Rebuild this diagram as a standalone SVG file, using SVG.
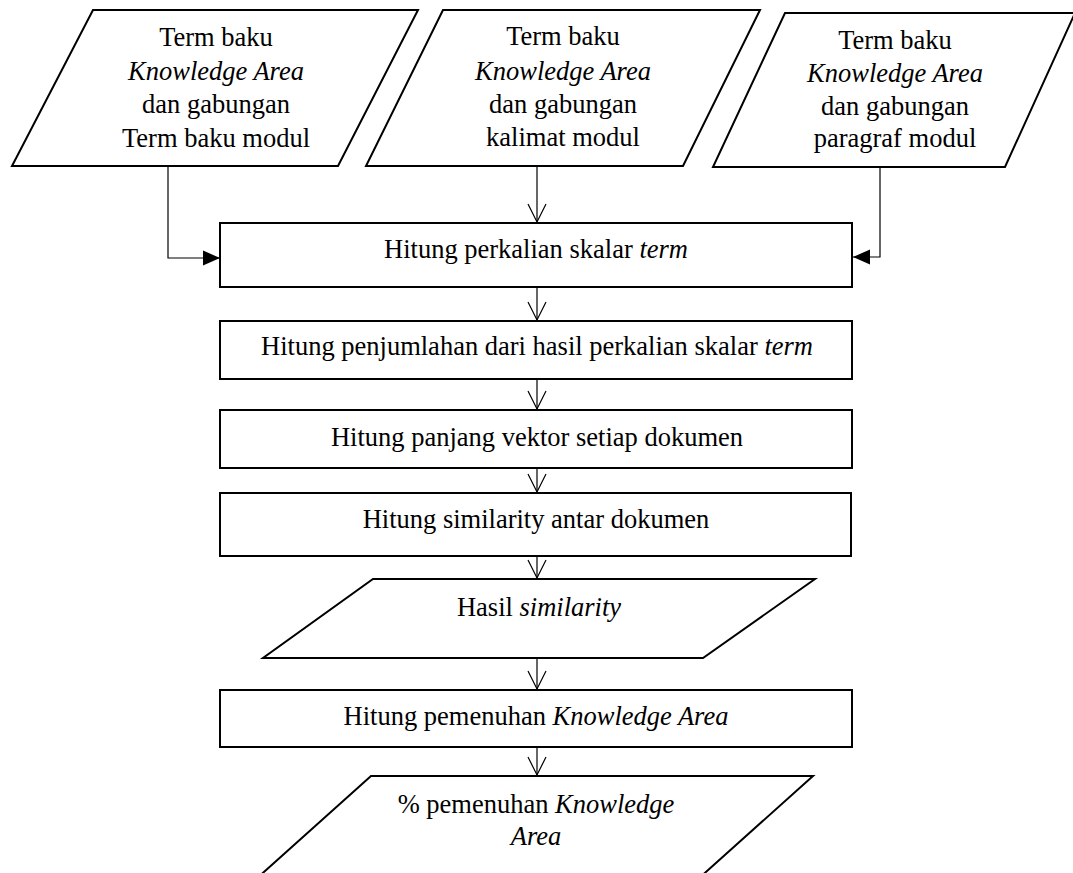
<svg xmlns="http://www.w3.org/2000/svg" width="1073" height="873" viewBox="0 0 1073 873">
  <style>
    .shape { fill: #ffffff; stroke: #000000; stroke-width: 2; stroke-linejoin: miter; }
    .conn { fill: none; stroke: #000000; stroke-width: 1.2; }
    text { font-family: "Liberation Serif", "Times New Roman", serif; font-size: 26.5px; fill: #000000; text-anchor: middle; }
    .it { font-style: italic; }
  </style>
  <defs>
    <marker id="open" markerUnits="userSpaceOnUse" markerWidth="20" markerHeight="20" refX="18" refY="9" orient="auto" overflow="visible">
      <path d="M0,0 L18,9 L0,18" fill="none" stroke="#000000" stroke-width="1.2"/>
    </marker>
    <marker id="solid" markerUnits="userSpaceOnUse" markerWidth="18" markerHeight="16" refX="17" refY="7.5" orient="auto" overflow="visible">
      <path d="M0,0 L17,7.5 L0,15 Z" fill="#000000"/>
    </marker>
  </defs>

  <rect x="0" y="0" width="1073" height="873" fill="#ffffff"/>

  <!-- input: term baku + term baku modul -->
  <g id="input-term">
    <polygon class="shape" points="93,10 418,10 338,166 12,166"/>
    <text x="216" y="46">Term baku</text>
    <text x="216" y="80" class="it">Knowledge Area</text>
    <text x="216" y="113">dan gabungan</text>
    <text x="216" y="147">Term baku modul</text>
  </g>

  <!-- input: term baku + kalimat modul -->
  <g id="input-kalimat">
    <polygon class="shape" points="443,10 760,10 683,166 366,166"/>
    <text x="563" y="45">Term baku</text>
    <text x="563" y="80" class="it">Knowledge Area</text>
    <text x="563" y="113">dan gabungan</text>
    <text x="563" y="146">kalimat modul</text>
  </g>

  <!-- input: term baku + paragraf modul -->
  <g id="input-paragraf">
    <polygon class="shape" points="785,13 1075,13 1005,167 713,167"/>
    <text x="895" y="49">Term baku</text>
    <text x="895" y="82" class="it">Knowledge Area</text>
    <text x="895" y="114.5">dan gabungan</text>
    <text x="895" y="147">paragraf modul</text>
  </g>

  <g id="perkalian-skalar">
    <rect class="shape" x="220" y="223" width="632" height="64"/>
    <text x="536" y="258">Hitung perkalian skalar <tspan class="it">term</tspan></text>
  </g>

  <g id="penjumlahan">
    <rect class="shape" x="220" y="321" width="632" height="58"/>
    <text x="537" y="355">Hitung penjumlahan dari hasil perkalian skalar <tspan class="it">term</tspan></text>
  </g>

  <g id="panjang-vektor">
    <rect class="shape" x="220" y="410" width="632" height="58"/>
    <text x="537" y="446">Hitung panjang vektor setiap dokumen</text>
  </g>

  <g id="similarity">
    <rect class="shape" x="220" y="493" width="631" height="63"/>
    <text x="536" y="528">Hitung similarity antar dokumen</text>
  </g>

  <g id="hasil-similarity">
    <polygon class="shape" points="373,579 815,579 703,658 263,658"/>
    <text x="539" y="616">Hasil <tspan class="it">similarity</tspan></text>
  </g>

  <g id="pemenuhan">
    <rect class="shape" x="220" y="690" width="632" height="57"/>
    <text x="536" y="725">Hitung pemenuhan <tspan class="it">Knowledge Area</tspan></text>
  </g>

  <g id="persen-pemenuhan">
    <polygon class="shape" points="371,776 813,776 697,880 255,880"/>
    <text x="536" y="813">% pemenuhan <tspan class="it">Knowledge</tspan></text>
    <text x="536" y="845" class="it">Area</text>
  </g>

  <!-- connectors -->
  <g id="connectors">
    <path class="conn" d="M168,167 V258 H220" marker-end="url(#solid)"/>
    <path class="conn" d="M537,167 V222" marker-end="url(#open)"/>
    <path class="conn" d="M880,168 V257 H853" marker-end="url(#solid)"/>
    <path class="conn" d="M537,287 V320" marker-end="url(#open)"/>
    <path class="conn" d="M537,379 V409" marker-end="url(#open)"/>
    <path class="conn" d="M537,468 V492" marker-end="url(#open)"/>
    <path class="conn" d="M537,556 V578" marker-end="url(#open)"/>
    <path class="conn" d="M537,658 V689" marker-end="url(#open)"/>
    <path class="conn" d="M537,747 V775" marker-end="url(#open)"/>
  </g>
</svg>
